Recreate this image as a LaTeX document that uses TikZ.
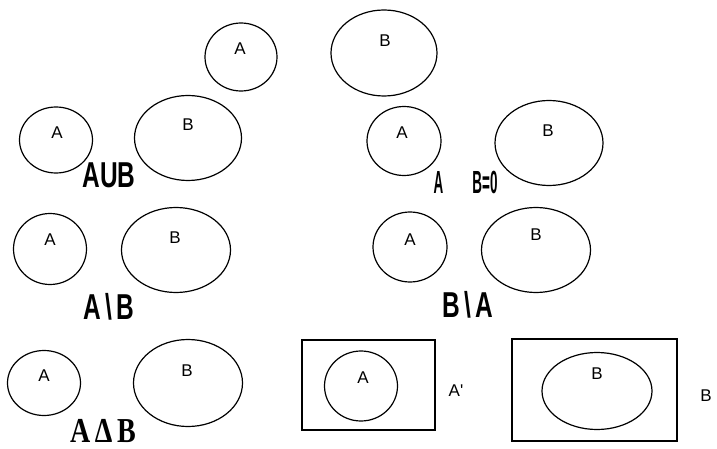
\documentclass[tikz,border=0pt]{standalone}
\usepackage{fontspec}
\setmainfont{Liberation Sans}
\newfontfamily\serifbold{Liberation Serif}
\usetikzlibrary{shapes.geometric}
\tikzset{
  setshape/.style={draw, line width=1.2pt, ellipse, inner sep=0pt},
  lbl/.style={font=\fontsize{17}{19}\selectfont, inner sep=0pt},
  big/.style={font=\fontsize{36}{38}\selectfont\bfseries, inner sep=0pt, xscale=0.68},
  narrow/.style={font=\fontsize{32}{34}\selectfont\bfseries, inner sep=0pt, xscale=0.42},
  sbig/.style={font=\fontsize{35}{37}\selectfont\serifbold\bfseries, inner sep=0pt, xscale=0.8},
  universe/.style={draw, line width=1.2pt}
}
\begin{document}
\begin{tikzpicture}[x=1pt,y=-1pt]
\useasboundingbox (0,0) rectangle (717,449);
% row 1
\node[setshape, minimum width=72, minimum height=68] (a0) at (241,57) {};
\node[setshape, minimum width=106, minimum height=86] (b0) at (384,53) {};
\node[lbl] (ta0) at (240,49) {A};
\node[lbl] (tb0) at (385,41) {B};
% row 2 left
\node[setshape, minimum width=73, minimum height=66] (a1) at (56,140) {};
\node[setshape, minimum width=107, minimum height=85] (b1) at (188,138) {};
\node[lbl] (ta1) at (57,133) {A};
\node[lbl] (tb1) at (188,125) {B};
\node[big] (u1) at (109,175) {AUB};
% row 2 right
\node[setshape, minimum width=74, minimum height=69] (a2) at (404,141) {};
\node[setshape, minimum width=108, minimum height=85] (b2) at (549,143) {};
\node[lbl] (ta2) at (402,133) {A};
\node[lbl] (tb2) at (548,131) {B};
\node[narrow] (i2a) at (438.5,182) {A};
\node[narrow] (i2b) at (485,182) {B=0};
% row 3 left
\node[setshape, minimum width=73, minimum height=71] (a3) at (50,249) {};
\node[setshape, minimum width=109, minimum height=85] (b3) at (176,250) {};
\node[lbl] (ta3) at (50,240) {A};
\node[lbl] (tb3) at (175,238) {B};
\node[big] (d3) at (109,307) {A\,\textbackslash\,B};
% row 3 right
\node[setshape, minimum width=74, minimum height=70] (a4) at (410,247) {};
\node[setshape, minimum width=109, minimum height=85] (b4) at (536,250) {};
\node[lbl] (ta4) at (410,240) {A};
\node[lbl] (tb4) at (536,235) {B};
\node[big] (d4) at (468,305) {B\,\textbackslash\,A};
% row 4 left
\node[setshape, minimum width=73, minimum height=65] (a5) at (44,383) {};
\node[setshape, minimum width=109, minimum height=87] (b5) at (188,383) {};
\node[lbl] (ta5) at (44,376) {A};
\node[lbl] (tb5) at (187,371) {B};
\node[sbig] (s5) at (103,431) {A\,Δ\,B};
% row 4 right
\node[universe, minimum width=133, minimum height=90, inner sep=0pt] (r6) at (368.5,385) {};
\node[setshape, minimum width=73, minimum height=70] (a6) at (361,386) {};
\node[lbl] (ta6) at (363,378) {A};
\node[lbl] (c6) at (456,391) {A\textquotesingle};
\node[universe, minimum width=165, minimum height=102, inner sep=0pt] (r7) at (594.5,390) {};
\node[setshape, minimum width=110, minimum height=77] (b7) at (597,391) {};
\node[lbl] (tb7) at (597,374) {B};
\node[lbl] (c7) at (706,396) {B};
\end{tikzpicture}
\end{document}
